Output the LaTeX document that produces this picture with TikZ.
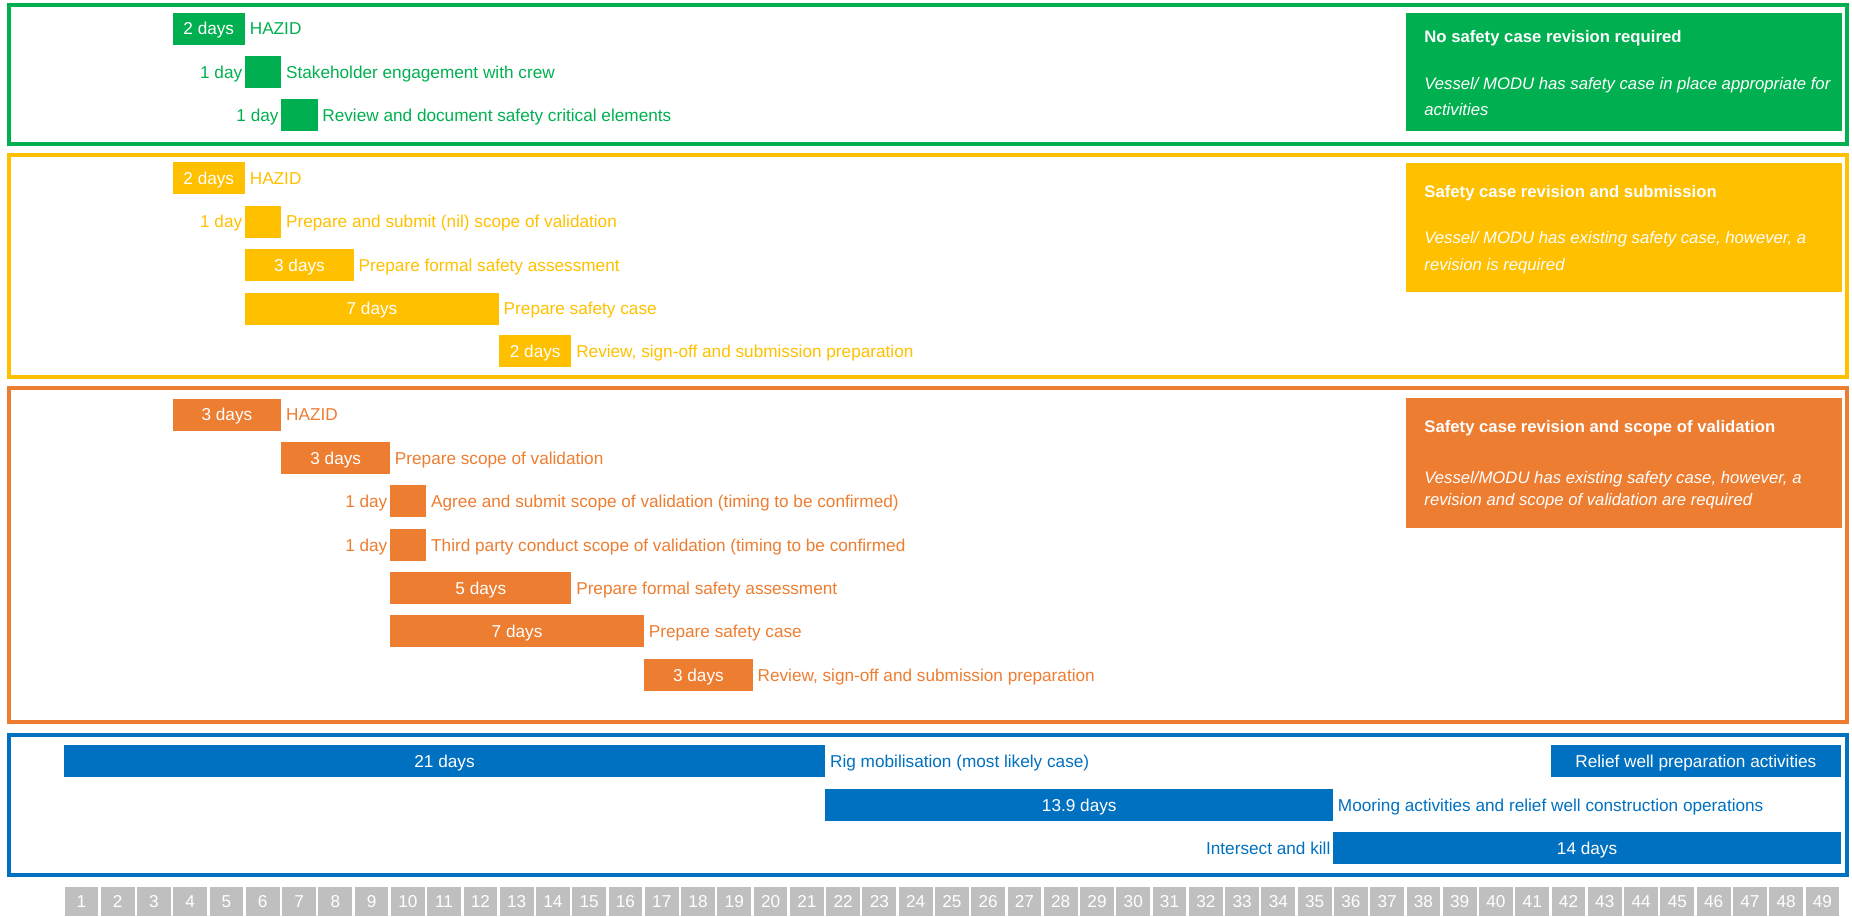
\documentclass[tikz,border=0pt]{standalone}
\usepackage{fontspec}
\setmainfont{Liberation Sans}
\usepackage{tikz}
\usetikzlibrary{positioning}
\definecolor{RWgreen} {RGB}{0,  176,  80}
\definecolor{RWgold}  {RGB}{255,192,   0}
\definecolor{RWorange}{RGB}{237,125,  49}
\definecolor{RWblue}  {RGB}{0,  112, 192}
\definecolor{RWgrey}  {RGB}{191,191, 191}
\newcommand{\dayw}{18.135pt}

\begin{document}
\begin{tikzpicture}[x=\dayw,y=-0.5pt,font=\fontsize{8.6}{11.5}\selectfont,
  bar/.style={anchor=west,inner sep=0pt,minimum height=16pt,minimum width=#1*\dayw,
    text height=6.5pt,text depth=0.5pt,fill=sec,text=white},
  lbl/.style={inner sep=1pt,text height=6.5pt,text depth=0.5pt,text=sec},
  section/.style={line width=2pt},
  info/.style={anchor=north west,inner sep=0pt,minimum width=218pt,minimum height=#1},
  infotext/.style={anchor=north west,align=left,inner sep=0pt,text=white,
    font=\fontsize{8.35}{11.5}\selectfont},
  cell/.style={fill=RWgrey,text=white,inner sep=0pt,minimum width=16.9pt,minimum height=14.5pt}]
\useasboundingbox (-1.745,0) rectangle (49.316,916);
\draw[section,RWgreen]  (-1.497,5)   rectangle (49.18,144);
\draw[section,RWgold]   (-1.497,155) rectangle (49.18,377);
\draw[section,RWorange] (-1.497,388) rectangle (49.18,722);
\draw[section,RWblue]   (-1.497,735) rectangle (49.18,875);

\begin{scope}
\colorlet{sec}{RWgreen}
\node[bar=2] (g1) at (3,28.5) {2 days};
\node[lbl,right=1pt of g1] (g1t) {HAZID};
\node[bar=1] (g2) at (5,72) {};
\node[lbl,left=0pt of g2] (g2d) {1 day};
\node[lbl,right=1pt of g2] (g2t) {Stakeholder engagement with crew};
\node[bar=1] (g3) at (6,115) {};
\node[lbl,left=0pt of g3] (g3d) {1 day};
\node[lbl,right=1pt of g3] (g3t) {Review and document safety critical elements};
\node[info=59pt,fill=sec] (ginfo) at (37.02,13) {};
\node[infotext] (gnote) at ([xshift=9pt,yshift=-8.5pt]ginfo.north west)
  {\textbf{No safety case revision required}\\[12pt]
   \textit{Vessel/ MODU has safety case in place appropriate for}\\[1.5pt]
   \textit{activities}};
\end{scope}

\begin{scope}
\colorlet{sec}{RWgold}
\node[bar=2] (y1) at (3,178) {2 days};
\node[lbl,right=1pt of y1] (y1t) {HAZID};
\node[bar=1] (y2) at (5,221.5) {};
\node[lbl,left=0pt of y2] (y2d) {1 day};
\node[lbl,right=1pt of y2] (y2t) {Prepare and submit (nil) scope of validation};
\node[bar=3] (y3) at (5,265) {3 days};
\node[lbl,right=1pt of y3] (y3t) {Prepare formal safety assessment};
\node[bar=7] (y4) at (5,308.5) {7 days};
\node[lbl,right=1pt of y4] (y4t) {Prepare safety case};
\node[bar=2] (y5) at (12,351) {2 days};
\node[lbl,right=1pt of y5] (y5t) {Review, sign-off and submission preparation};
\node[info=64.5pt,fill=sec] (yinfo) at (37.02,163) {};
\node[infotext] (ynote) at ([xshift=9pt,yshift=-10.8pt]yinfo.north west)
  {\textbf{Safety case revision and submission}\\[11.5pt]
   \textit{Vessel/ MODU has existing safety case, however, a}\\[2pt]
   \textit{revision is required}};
\end{scope}

\begin{scope}
\colorlet{sec}{RWorange}
\node[bar=3] (o1) at (3,414.5) {3 days};
\node[lbl,right=1pt of o1] (o1t) {HAZID};
\node[bar=3] (o2) at (6,458) {3 days};
\node[lbl,right=1pt of o2] (o2t) {Prepare scope of validation};
\node[bar=1] (o3) at (9,501) {};
\node[lbl,left=0pt of o3] (o3d) {1 day};
\node[lbl,right=1pt of o3] (o3t) {Agree and submit scope of validation (timing to be confirmed)};
\node[bar=1] (o4) at (9,545) {};
\node[lbl,left=0pt of o4] (o4d) {1 day};
\node[lbl,right=1pt of o4] (o4t) {Third party conduct scope of validation (timing to be confirmed};
\node[bar=5] (o5) at (9,588) {5 days};
\node[lbl,right=1pt of o5] (o5t) {Prepare formal safety assessment};
\node[bar=7] (o6) at (9,631) {7 days};
\node[lbl,right=1pt of o6] (o6t) {Prepare safety case};
\node[bar=3] (o7) at (16,675) {3 days};
\node[lbl,right=1pt of o7] (o7t) {Review, sign-off and submission preparation};
\node[info=65pt,fill=sec] (oinfo) at (37.02,398) {};
\node[infotext] (onote) at ([xshift=9pt,yshift=-11pt]oinfo.north west)
  {\textbf{Safety case revision and scope of validation}\\[14pt]
   \textit{Vessel/MODU has existing safety case, however, a}\\[-0.5pt]
   \textit{revision and scope of validation are required}};
\end{scope}

\begin{scope}
\colorlet{sec}{RWblue}
\node[bar=21] (b1) at (0,761) {21 days};
\node[lbl,right=1pt of b1] (b1t) {Rig mobilisation (most likely case)};
\node[bar=8] (b4) at (41,761) {Relief well preparation activities};
\node[bar=14] (b2) at (21,805) {13.9 days};
\node[lbl,right=1pt of b2] (b2t) {Mooring activities and relief well construction operations};
\node[bar=14] (b3) at (35,848) {14 days};
\node[lbl,left=0pt of b3] (b3t) {Intersect and kill};
\end{scope}

\foreach \d in {1,...,49}
  \node[cell] (c\d) at (\d-0.5,901.5) {\d};
\end{tikzpicture}
\end{document}
